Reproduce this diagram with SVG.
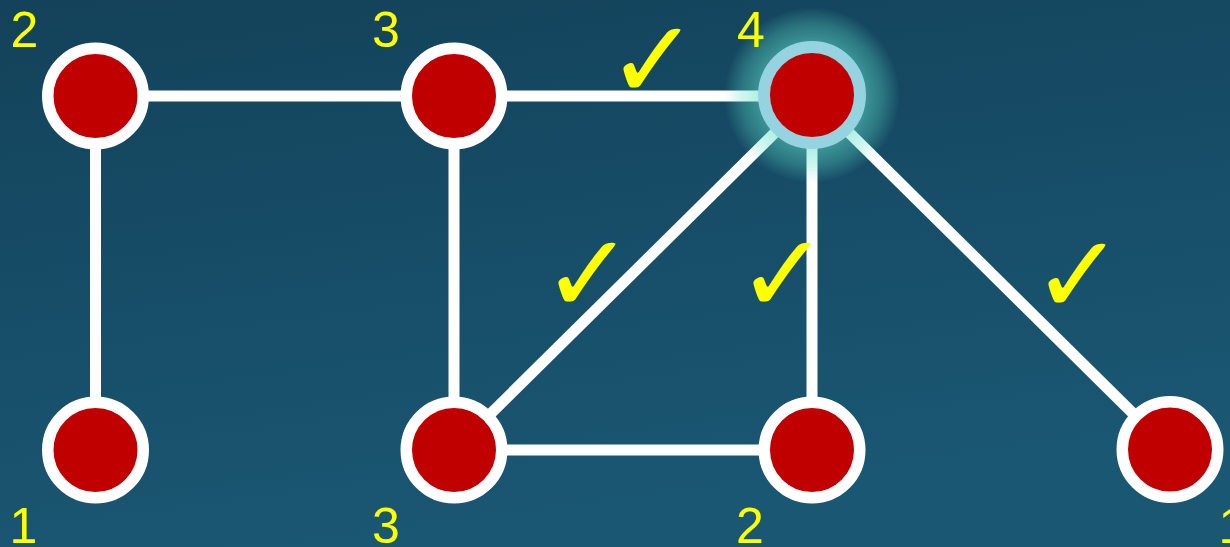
<svg xmlns="http://www.w3.org/2000/svg" width="1230" height="547" viewBox="0 0 1230 547">
  <defs>
    <linearGradient id="bg" x1="0" y1="0" x2="0.3" y2="1">
      <stop offset="0" stop-color="#13425A"/>
      <stop offset="1" stop-color="#1A5773"/>
    </linearGradient>
    <radialGradient id="glow" cx="0.5" cy="0.5" r="0.5">
      <stop offset="0" stop-color="#5FE0C8" stop-opacity="0.55"/>
      <stop offset="0.6" stop-color="#5FE0C8" stop-opacity="0.5"/>
      <stop offset="0.8" stop-color="#5FE0C8" stop-opacity="0.3"/>
      <stop offset="1" stop-color="#5FE0C8" stop-opacity="0"/>
    </radialGradient>
    <style>
      .edge { stroke: #FFFFFF; stroke-width: 11; fill: none; }
      .node { fill: #C00000; stroke: #FFFFFF; stroke-width: 11.5; }
      .hl { fill: #C00000; stroke: #96D3E0; stroke-width: 12; }
      .lbl { font-family: "Liberation Sans", Arial, sans-serif; font-size: 50px; fill: #FFFF00; }
      .chk { font-family: "DejaVu Sans", sans-serif; font-weight: bold; font-size: 110px; fill: #FFFF00; }
    </style>
  </defs>
  <rect width="1230" height="547" fill="url(#bg)"/>

  <g id="connectors">
    <line class="edge" x1="95.5" y1="96" x2="454" y2="96"/>
    <line class="edge" x1="95.5" y1="96" x2="95.5" y2="450"/>
    <line class="edge" x1="454" y1="96" x2="812" y2="96"/>
    <line class="edge" x1="454" y1="96" x2="454" y2="450"/>
    <line class="edge" x1="812" y1="96" x2="454" y2="450"/>
    <line class="edge" x1="812" y1="96" x2="812" y2="450"/>
    <line class="edge" x1="812" y1="96" x2="1170" y2="450"/>
    <line class="edge" x1="454" y1="450" x2="812" y2="450"/>
  </g>

  <g id="checks">
    <text class="chk" x="607" y="98">✓</text>
    <text class="chk" x="542" y="312">✓</text>
    <text class="chk" x="737" y="312">✓</text>
    <text class="chk" x="1032" y="313">✓</text>
  </g>

  <g id="glow-effect">
    <circle cx="812" cy="95" r="88" fill="url(#glow)"/>
  </g>

  <g id="node-a">
    <circle class="node" cx="95.5" cy="96" r="47.75"/>
    <text class="lbl" x="10.5" y="46.5">2</text>
  </g>
  <g id="node-b">
    <circle class="node" cx="454" cy="96" r="47.75"/>
    <text class="lbl" x="372" y="46.5">3</text>
  </g>
  <g id="node-c">
    <circle class="hl" cx="812" cy="95" r="48"/>
    <text class="lbl" x="737" y="46.5">4</text>
  </g>
  <g id="node-d">
    <circle class="node" cx="95.5" cy="450" r="47.75"/>
    <text class="lbl" x="9.5" y="542.5">1</text>
  </g>
  <g id="node-e">
    <circle class="node" cx="454" cy="450" r="47.75"/>
    <text class="lbl" x="372" y="542.5">3</text>
  </g>
  <g id="node-f">
    <circle class="node" cx="812" cy="450" r="47.75"/>
    <text class="lbl" x="736" y="542.5">2</text>
  </g>
  <g id="node-g">
    <circle class="node" cx="1170" cy="449.5" r="47.75"/>
    <text class="lbl" x="1218.5" y="542.5">1</text>
  </g>
</svg>
